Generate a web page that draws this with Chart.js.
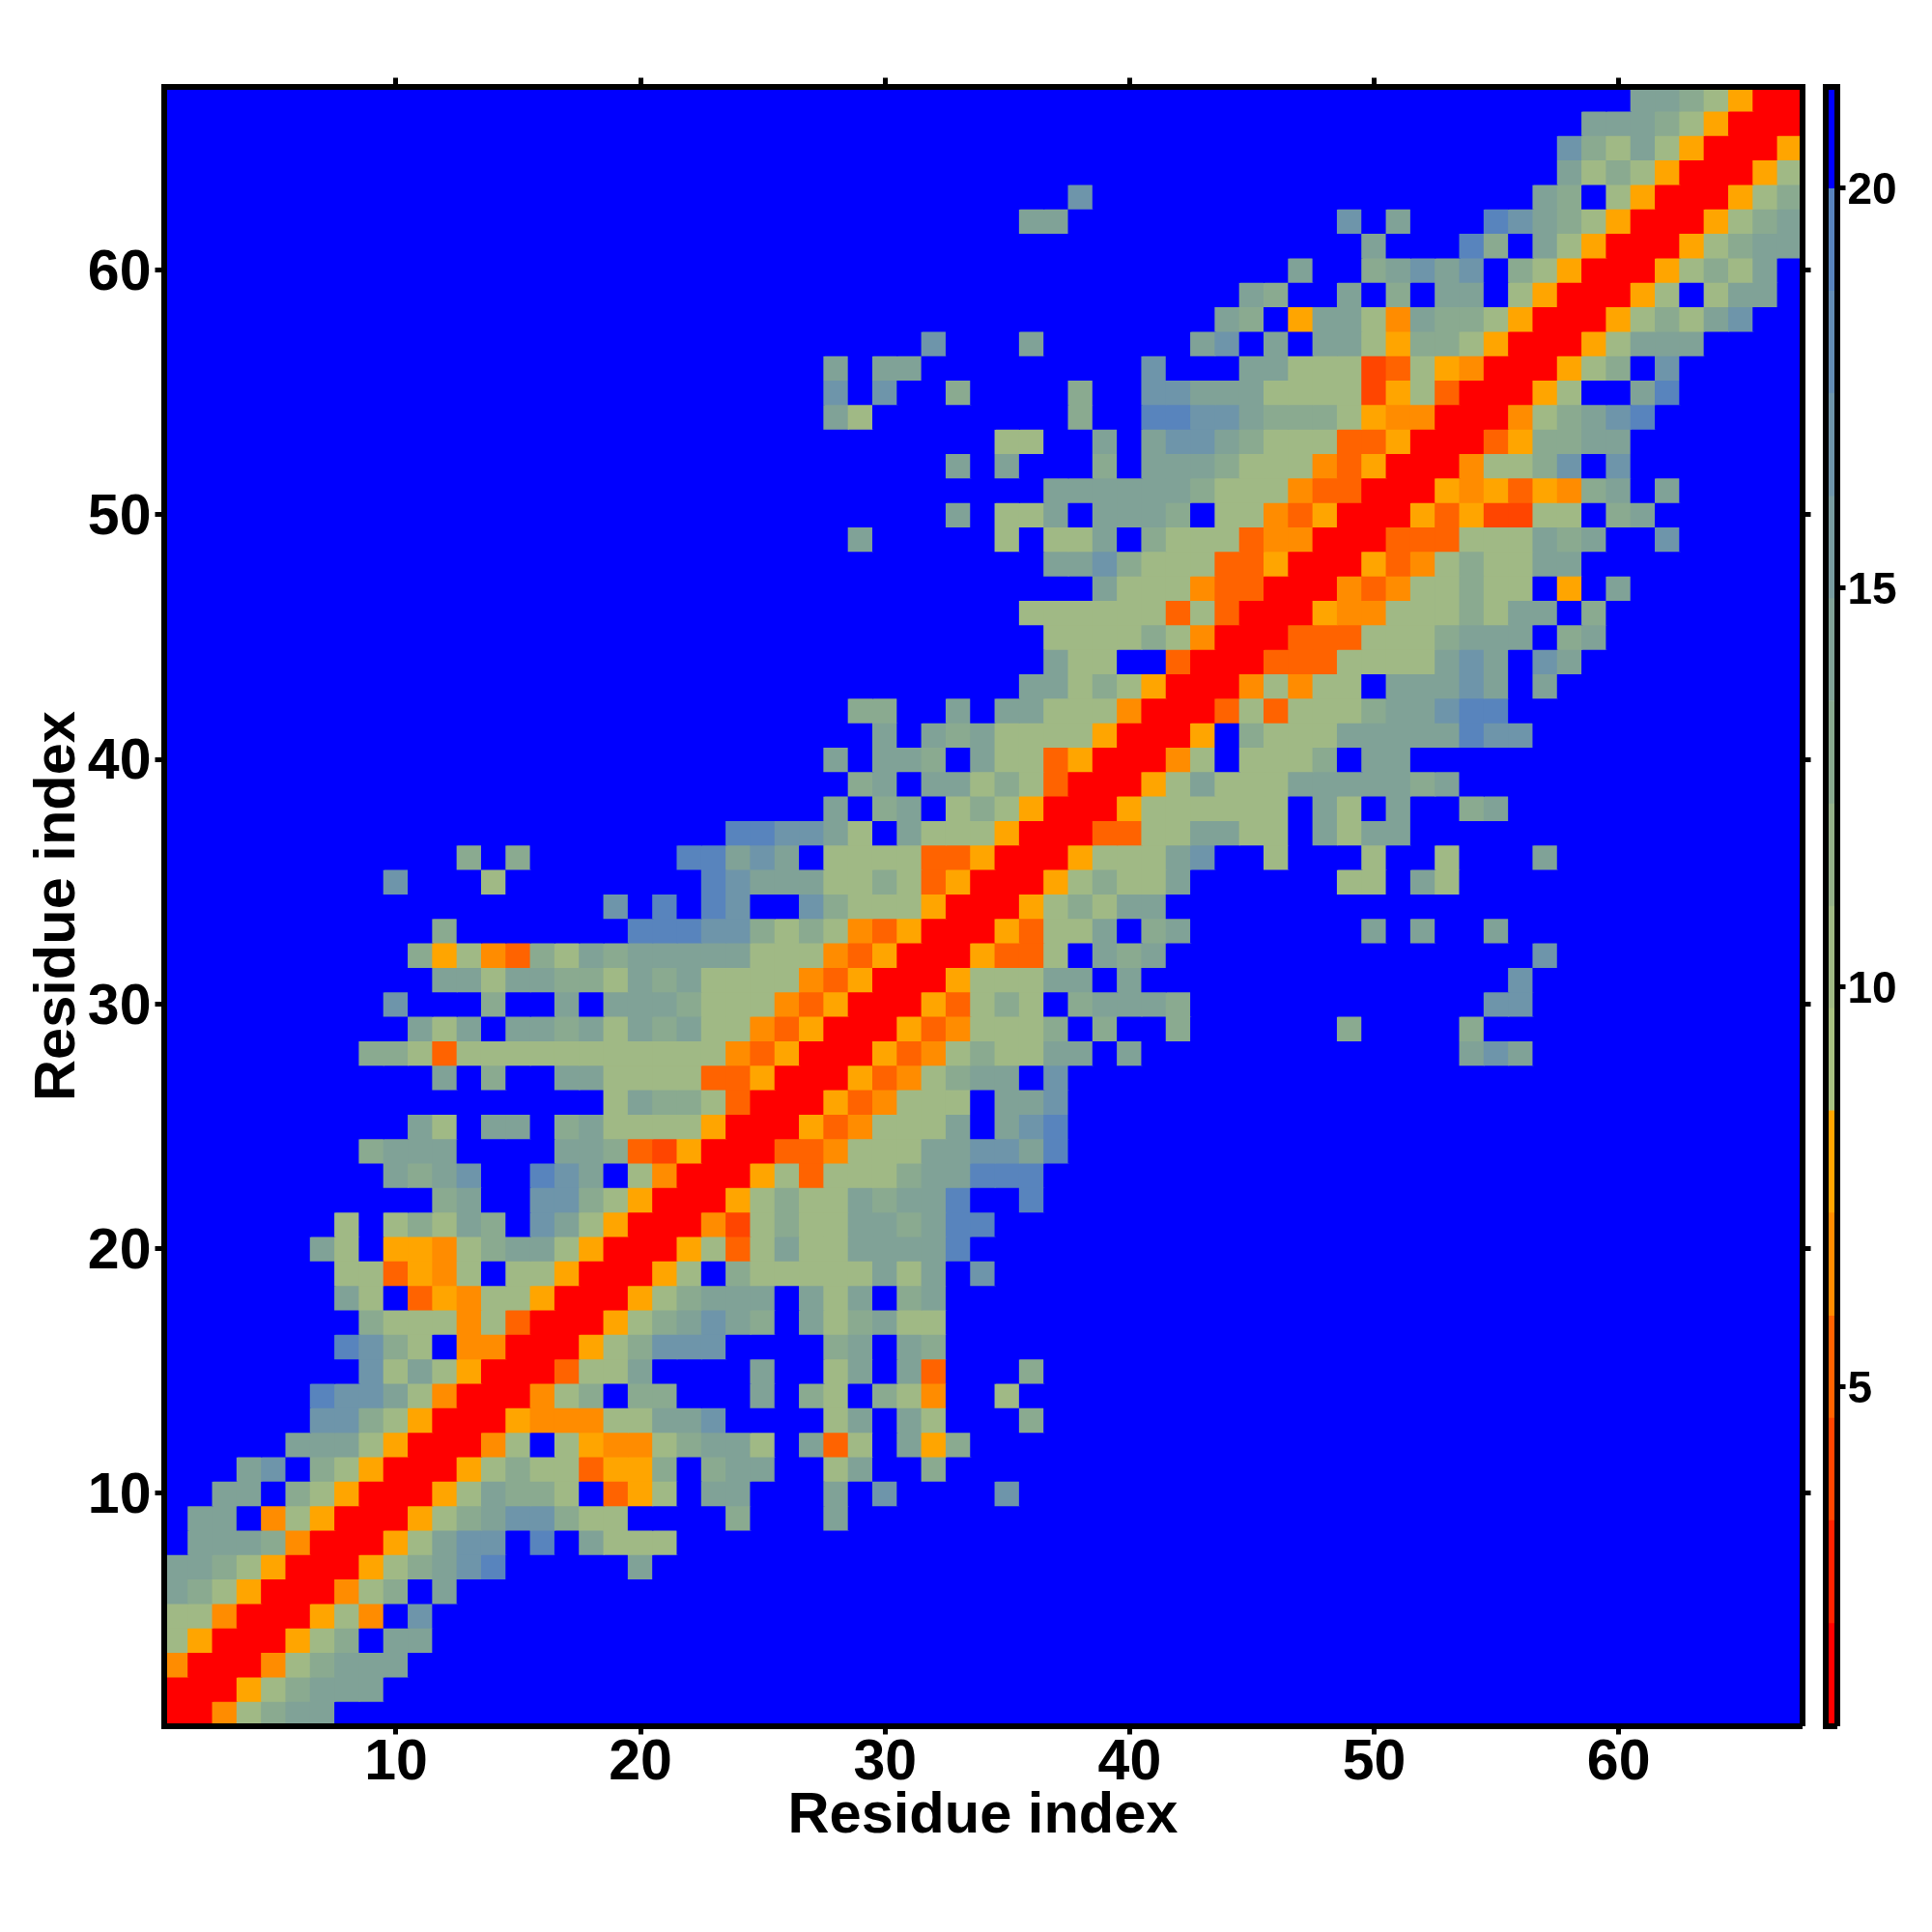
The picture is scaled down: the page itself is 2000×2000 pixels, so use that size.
<!DOCTYPE html>
<html>
<head>
<meta charset="utf-8">
<title>Residue contact map</title>
<script src="https://cdn.jsdelivr.net/npm/chart.js@4"></script>
<style>
    html, body { margin: 0; padding: 0; background: #ffffff; }
    #wrap { position: relative; width: 2000px; height: 2000px; }
    canvas { position: absolute; left: 0; top: 0; }
</style>
</head>
<body>
<div id="wrap">
    <canvas id="mapChart" width="2000" height="2000"></canvas>
    <canvas id="barChart" width="2000" height="2000"></canvas>
</div>
<script>
// first residue column drawn on each row, row 1 is at the bottom
const rowStart = [
    1, 1, 1, 1, 1, 1, 1, 2, 2, 3,
    4, 6, 7, 7, 9, 8, 9, 8, 8, 7,
    8, 12, 10, 9, 11, 19, 12, 9, 11, 10,
    12, 11, 12, 19, 10, 13, 24, 28, 29, 28,
    30, 29, 36, 37, 37, 36, 39, 37, 29, 33,
    37, 33, 35, 28, 28, 28, 32, 44, 45, 47,
    50, 36, 38, 58, 58, 59, 61];

// one letter per residue, see cellDistance below
const rowCells = [
    'RROabcc',
    'RRRYabccc',
    'ORRROabccc',
    'aYRRRYab.cc',
    'aaORRRYaO.d',
    'cbaYRRROab.c',
    'ccbaYRRRYabcde.....c',
    'cccbORRRYacdd.e.caaa',
    'cc.OaYRRRYabcddbaa....b...c',
    'cc.baYRRRYacbba.3Ya.cc...c.d....d',
    'cd.baYRRRYabaa3YYb.bcc..ac..b',
    'cccaYRRROa.aYOOabcca.c3a.cYb',
    'ddbaYRRRYOOOaaccd....ac.ca...b',
    'eddcaORRROab.bb...c.ba.baO..a',
    'dacaYRRR3aac....c..ac.c3...b',
    'edba.OORRRYabddd....bc.cb',
    'baaaOa3RRRYabcdcb.cabcaa',
    'ca.3YOaaYRRRYabccc.cac.bc',
    'aa3YOa.aaYRRRYa.baaaaacac.d',
    'ca.YYOabccaYRRRYa3acaacccce',
    'a.abacb.dcaYRRRO2abaaccbcee',
    'bc..ddbaYRRRYabaacbcce..e',
    'cbcd..edc.aORRRYa3aaabcceee',
    'bccc....ccb32YRRR33Oaaaccddce',
    'ca.cc.bcaaaaYRRRY3Oaaac.cde',
    'acbba3RRRY3Oaaa.ccd',
    'c.b..ccaaaa33YRRRY3Oabcc.d',
    'bba3aaaaaaaaaaaO3YRRRY3Oabaacc.c.............cdc',
    'cac.ccbcacbcaaO3YRRRY3Oaaab.b..b......b....b',
    'd...b..c.cccbaaaO3YRRRY3aba.bcccb............dd',
    'ccaccbbacbcaaaaO3YRRRYaaacc.c...............d',
    'bYaO3bacbcccccaaaO3YRRRY33a.cbc...............d',
    'b.......eeeddbabaO3YRRRY3aac.bc.......c.c..c',
    'd.e.ed..dbaaaYRRRYabacc',
    'd...a........edcccaaba3YRRRYabaac......aa.ca',
    'b.b......eecdc.aaaa33YRRRYaaacd..a...a..a...c',
    'eeddca.caaaYRRR33aaccaa.cacc',
    'c.bc.abaYRRRYaaaaaa.ca.c..bc',
    'bc.ccaba3RRRYacaaacccccbc',
    'c.ccb.caa3YRRROa.aaab.cc',
    'c.cbcaaaaYRRRY.baaacccccedd',
    'bb..c.ccaaaORRR3a3aaabccdee',
    'ccabaYRRROaOaa.cccdc.c',
    'caa..3RRR333aaaacdc.dc',
    'aaaabaORRR333aaabccc.bc',
    'aaaaaa3a3RRRYOOaaabacc.b',
    'caaaO33RRRO3Oaabaa.Y.c',
    'ccdbaaa33YRRRY3Oabaacc',
    'c.....a.aac.baaa3OORRR333aaacbc..d',
    'c.aac.cccb.aaO3YRRRY3Y22aa.bc',
    'ccccccbaaaO33RRRYOY3YObc.c',
    'c.c...b.cccbaaaO3YRRROaabd.d',
    'aa..c.cddcbaaa33YRRR3Ybbcc',
    'ca........b..eeddcbbbaYOORRROabcde',
    'd.d..b....b..ddcccaaaa2Ya3RRRYa..ce',
    'c.cc.........d...ccaaa23aYORRRYab.d',
    'd...c......cd.c.ccaYbbaYRRRYaccc',
    'cb.YccaOcbbaYRRRYabacd',
    'cb..c.b.cc.aYRRRYa.acc',
    'c..bcdcd.baYRRRYabac',
    'c...eb.caYRRRYabcc',
    'cc...........d.c...edcbaYRRRYabc',
    'd..................cb.aYRRRYab',
    'cabaYRRRYa',
    'dbacaYRRRY',
    'cccbaYRRR',
    'ccbaYRR'];

// distance in angstrom behind each letter, '.' is everything over 20
const cellDistance = {
    'R': 1.4, '2': 4.0, '3': 5.2, 'O': 6.5, 'Y': 7.8,
    'a': 10.4, 'b': 12.9, 'c': 14.2, 'd': 16.8, 'e': 19.3, '.': 20.6
};

const residueTicks = [10, 20, 30, 40, 50, 60];
const barTicks = [5, 10, 15, 20];
const barEdges = [0.75, 2.03, 3.32, 4.6, 5.88, 7.17, 8.45, 9.73, 11.01,
    12.29, 13.58, 14.86, 16.14, 17.43, 18.71, 19.99, 21.27];
const barColors = ['#ff0000', '#ff2200', '#ff4500', '#ff6300', '#ff8c00', '#ffa500',
    '#a8c080', '#a0b985', '#95b18a', '#8aaa90', '#80a297', '#789ca0',
    '#6e95aa', '#638cb4', '#5884bd', '#0000ff'];
const residueCount = 67;

Chart.defaults.font.family = '"Liberation Sans", Arial, sans-serif';
Chart.defaults.font.weight = 'bold';
Chart.defaults.color = '#000000';

function colorFor(distance) {
    let i = barEdges.findIndex(function (edge) { return distance < edge; }) - 1;
    return barColors[i];
}

// every cell becomes a square point on the two residue axes
const cells = [];
for (let row = 1; row <= residueCount; row++) {
    const text = rowCells[row - 1].padEnd(residueCount - rowStart[row - 1] + 1, '.');
    for (let col = 1; col <= residueCount; col++) {
        const letter = col < rowStart[row - 1] ? '.' : text[col - rowStart[row - 1]];
        cells.push({ x: col, y: row, d: cellDistance[letter] });
    }
}

function frameAxis(position, fitSize, min, max, tickValues, showLabels) {
    const horizontal = position === 'top' || position === 'bottom';
    return {
        type: 'linear',
        position: position,
        min: min,
        max: max,
        afterBuildTicks: function (scale) {
            scale.ticks = tickValues.map(function (v) { return { value: v }; });
        },
        afterFit: function (scale) {
            if (horizontal) {
                scale.height = fitSize;
            } else {
                scale.width = fitSize;
            }
        },
        border: { display: true, color: '#000000', width: 6, z: 1 },
        grid: { drawOnChartArea: false, drawTicks: true, tickLength: 9, tickWidth: 5, tickColor: '#000000' },
        ticks: { display: showLabels, autoSkip: false, maxRotation: 0, minRotation: 0 }
    };
}

const xBottom = frameAxis('bottom', 213.5, 0.5, 67.5, residueTicks, true);
xBottom.ticks.font = { size: 59, weight: 'bold' };
xBottom.ticks.padding = -5;
xBottom.title = {
    display: true, text: 'Residue index', padding: { top: 0, bottom: 84 },
    font: { size: 59.6, weight: 'bold', lineHeight: 1.2 }
};
const yLeft = frameAxis('left', 169.5, 0.5, 67.5, residueTicks, true);
yLeft.ticks.font = { size: 59, weight: 'bold' };
yLeft.ticks.padding = 4;
yLeft.ticks.labelOffset = 4;
yLeft.title = {
    display: true, text: 'Residue index', padding: { top: 25, bottom: 0 },
    font: { size: 59.6, weight: 'bold', lineHeight: 1.2 }
};

const mapChart = new Chart(document.getElementById('mapChart'), {
    type: 'scatter',
    data: {
        datasets: [{
            label: 'Distance',
            data: cells,
            pointStyle: 'rect',
            borderWidth: 0,
            backgroundColor: function (ctx) {
                return ctx.raw ? colorFor(ctx.raw.d) : '#0000ff';
            },
            pointRadius: function (ctx) {
                const area = ctx.chart.chartArea;
                const plotWidth = area ? area.width : 1696;
                return (plotWidth / residueCount / 2 + 0.6) * Math.SQRT2;
            }
        }]
    },
    options: {
        responsive: false,
        animation: false,
        events: [],
        layout: { padding: 0 },
        plugins: { legend: { display: false }, tooltip: { enabled: false } },
        scales: {
            x: xBottom,
            y: yLeft,
            x2: frameAxis('top', 89.5, 0.5, 67.5, residueTicks, false),
            y2: frameAxis('right', 134.5, 0.5, 67.5, residueTicks, false)
        }
    }
});

// colour bar, one floating bar per level
const barRight = frameAxis('right', 98.5, 0.75, 21.27, barTicks, true);
barRight.ticks.font = { size: 46, weight: 'bold' };
barRight.ticks.padding = 2;
barRight.ticks.labelOffset = 4;
const barLeft = frameAxis('left', 1889.5, 0.75, 21.27, [], false);
const barTop = {
    type: 'category', position: 'top', labels: ['level'],
    afterFit: function (scale) { scale.height = 89.5; },
    border: { display: true, color: '#000000', width: 6, z: 1 },
    grid: { display: false }, ticks: { display: false }
};
const barBottom = {
    type: 'category', position: 'bottom', labels: ['level'],
    afterFit: function (scale) { scale.height = 213.5; },
    border: { display: true, color: '#000000', width: 6, z: 1 },
    grid: { display: false }, ticks: { display: false }
};

const barChart = new Chart(document.getElementById('barChart'), {
    type: 'bar',
    data: {
        labels: ['level'],
        datasets: barColors.map(function (color, i) {
            return {
                label: 'level ' + i,
                data: [[barEdges[i], barEdges[i + 1]]],
                backgroundColor: color,
                borderWidth: 0,
                barPercentage: 1,
                categoryPercentage: 1,
                grouped: false,
                xAxisID: 'x',
                yAxisID: 'y'
            };
        })
    },
    options: {
        responsive: false,
        animation: false,
        events: [],
        layout: { padding: 0 },
        plugins: { legend: { display: false }, tooltip: { enabled: false } },
        scales: { x: barBottom, y: barRight, x2: barTop, y2: barLeft }
    }
});
</script>
</body>
</html>
